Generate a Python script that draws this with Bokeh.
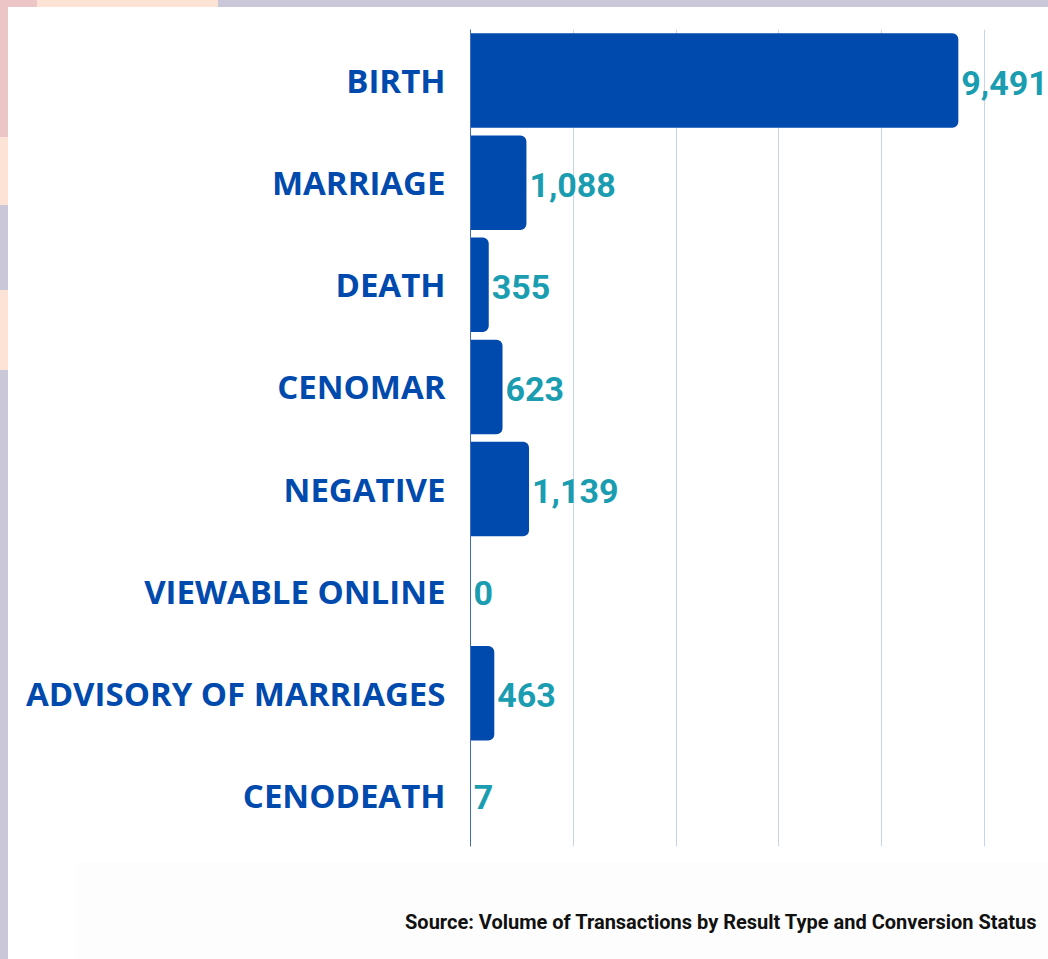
from bokeh.plotting import figure
from bokeh.models import ColumnDataSource, FactorRange, Range1d, FixedTicker, Title
from bokeh.core.properties import value
from bokeh.embed import file_html
from bokeh.resources import INLINE

categories = ["BIRTH", "MARRIAGE", "DEATH", "CENOMAR", "NEGATIVE",
              "VIEWABLE ONLINE", "ADVISORY OF MARRIAGES", "CENODEATH"]
counts = [9491, 1088, 355, 623, 1139, 0, 463, 7]
count_labels = ["{:,}".format(v) for v in counts]
grid_ticks = [0, 2000, 4000, 6000, 8000, 10000]
source_note = "Source: Volume of Transactions by Result Type and Conversion Status"

BLUE = "#004aad"
TEAL = "#1a9db0"
LAV, PINK, PEACH = "#c9c7d8", "#ecc6c7", "#fde3d5"

src = ColumnDataSource(dict(cat=categories, val=counts, lab=count_labels))

p = figure(width=1048, height=959, output_backend="svg", toolbar_location=None,
           y_range=FactorRange(factors=list(reversed(categories)), range_padding=0),
           x_range=Range1d(0, 11245),
           min_border_left=470, min_border_right=0, min_border_top=29, min_border_bottom=113)
p.border_fill_color = None
p.background_fill_color = "white"
p.outline_line_color = None

# decorative page background (top and left strips, faint footer panel, white card)
top_strip = f"linear-gradient(to right, {PINK} 0px, {PINK} 37px, {PEACH} 37px, {PEACH} 218px, {LAV} 218px, {LAV} 100%) 0 0 / 100% 7px no-repeat"
left_strip = (f"linear-gradient(to bottom, {PINK} 0px, {PINK} 137px, {PEACH} 137px, {PEACH} 205px, "
              f"{LAV} 205px, {LAV} 290px, {PEACH} 290px, {PEACH} 370px, {LAV} 370px, {LAV} 100%) 0 0 / 8px 100% no-repeat")
footer = "linear-gradient(#fdfdfd, #fdfdfd) 76px 862px / 972px 97px no-repeat"
p.styles = {"background": f"{top_strip}, {left_strip}, {footer}, #ffffff"}

p.hbar(y="cat", right="val", left=0, height=0.925, source=src, fill_color=BLUE,
       line_color=None, border_radius=(0, 6, 6, 0))

p.text(x="val", y="cat", text="lab", source=src, x_offset=3, y_offset=2,
       text_font=value("Roboto"), text_font_style="bold", text_font_size="34px",
       text_color=TEAL, text_baseline="middle", text_align="left")

p.xaxis.visible = False
p.xgrid.ticker = FixedTicker(ticks=grid_ticks)
p.xgrid.grid_line_color = "#c6d4ec"
p.xgrid.grid_line_width = 1
p.ygrid.grid_line_color = None

ax = p.yaxis[0]
ax.axis_line_color = "#3d6cc0"
ax.axis_line_width = 1
ax.major_tick_line_color = None
ax.minor_tick_line_color = None
ax.major_label_standoff = 19
ax.major_label_text_font = "Open Sans"
ax.major_label_text_font_style = "bold"
ax.major_label_text_font_size = "33px"
ax.major_label_text_color = BLUE

# leading blank lines push the note down inside the fixed bottom border
p.add_layout(Title(text="\n\n" + source_note, align="right", vertical_align="bottom",
                   offset=11, standoff=26,
                   text_font="Roboto", text_font_style="bold", text_font_size="20px",
                   text_color="#111111"), "below")

open("out.html", "w").write(file_html(p, INLINE))
